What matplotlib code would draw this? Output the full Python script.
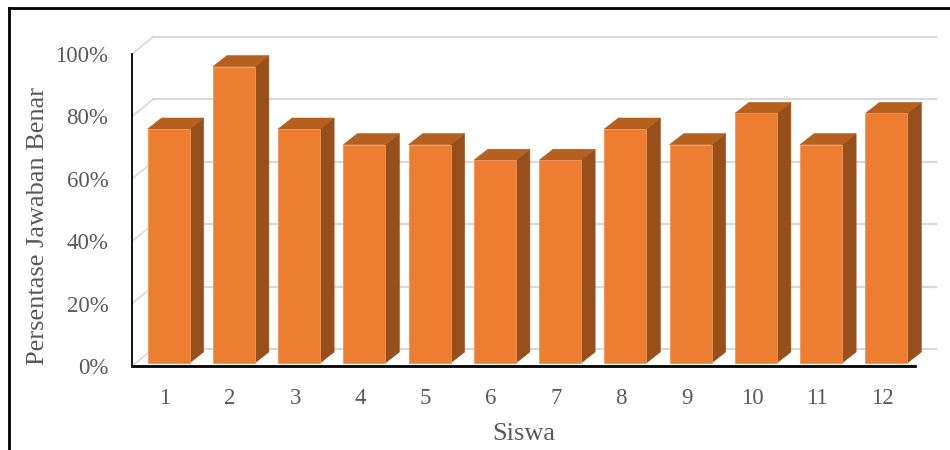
import matplotlib
matplotlib.use("Agg")
import matplotlib.pyplot as plt
from matplotlib.patches import Polygon
from matplotlib.lines import Line2D

plt.rcParams['font.family'] = ['Liberation Serif', 'DejaVu Serif']

# Data
siswa = ['1', '2', '3', '4', '5', '6', '7', '8', '9', '10', '11', '12']
persentase = [75, 95, 75, 70, 70, 65, 65, 75, 70, 80, 70, 80]
yticks = [0, 20, 40, 60, 80, 100]
ytick_labels = ['0%', '20%', '40%', '60%', '80%', '100%']

FRONT = '#ED7D31'
TOP = '#B6601F'
SIDE = '#974F1C'
GRID = '#D9D9D9'
TEXT = '#595959'

W, H = 950, 450
fig = plt.figure(figsize=(W / 100, H / 100), dpi=100)
ax = fig.add_axes([132 / W, (H - 366) / H, 783 / W, 312 / H])
n = len(siswa)
ax.set_xlim(-0.5, n - 0.5)
ax.set_ylim(0, 100)

# pixel -> data unit scale factors for the pseudo-3D offsets
x_per_px = (n) / 783.0
y_per_px = 100 / 312.0

def off(dx_px, dy_px):
    return dx_px * x_per_px, dy_px * y_per_px

# back wall gridlines and the connecting diagonals on the left wall
gx, gy = off(21, 17)
for t in yticks:
    ax.add_line(Line2D([-0.5 + gx, n - 0.5 + gx], [t + gy, t + gy],
                       color=GRID, lw=1.6, zorder=1, clip_on=False))
    ax.add_line(Line2D([-0.5, -0.5 + gx], [t, t + gy],
                       color=GRID, lw=1.2, zorder=1, clip_on=False))

# 3D-style bars
bw = 42 * x_per_px
fx, fy = off(4, 3)
dx, dy = off(14, 11)
for i, v in enumerate(persentase):
    x0 = i - bw / 2 + fx
    x1 = x0 + bw
    y0 = fy
    y1 = v + fy
    front = Polygon([(x0, y0), (x1, y0), (x1, y1), (x0, y1)], closed=True,
                    facecolor=FRONT, edgecolor='#F0955A', lw=0.6, zorder=3, clip_on=False)
    side = Polygon([(x1, y0), (x1 + dx, y0 + dy), (x1 + dx, y1 + dy), (x1, y1)], closed=True,
                   facecolor=SIDE, edgecolor=SIDE, lw=0.4, zorder=3, clip_on=False)
    top = Polygon([(x0, y1), (x1, y1), (x1 + dx, y1 + dy), (x0 + dx, y1 + dy)], closed=True,
                  facecolor=TOP, edgecolor=TOP, lw=0.4, zorder=3, clip_on=False)
    for p in (side, top, front):
        ax.add_patch(p)

# axes styling
for s in ('top', 'right'):
    ax.spines[s].set_visible(False)
ax.spines['left'].set_color('black')
ax.spines['left'].set_linewidth(1.3)
ax.spines['bottom'].set_color('black')
ax.spines['bottom'].set_linewidth(2.0)
ax.spines['left'].set_zorder(5)
ax.spines['bottom'].set_zorder(5)
ax.patch.set_visible(False)

ax.set_yticks(yticks)
ax.set_yticklabels(ytick_labels, fontsize=16.5, color=TEXT)
ax.set_xticks(range(n))
ax.set_xticklabels(siswa, fontsize=16.5, color=TEXT)
ax.tick_params(axis='y', length=0, pad=17)
ax.tick_params(axis='x', length=0, pad=16)

ax.set_ylabel('Persentase Jawaban Benar', fontsize=19, color=TEXT)
ax.yaxis.set_label_coords(-0.106, 0.45)
ax.set_xlabel('Siswa', fontsize=19, color=TEXT, labelpad=10)

# chart frame
fig.add_artist(Line2D([9 / W, 9 / W], [-0.1, 1 - 8 / H], transform=fig.transFigure,
                      color='black', lw=2.0))
fig.add_artist(Line2D([9 / W, 1.1], [1 - 8 / H, 1 - 8 / H], transform=fig.transFigure,
                      color='black', lw=2.0))

fig.savefig('out.png', dpi=100, facecolor='white')
